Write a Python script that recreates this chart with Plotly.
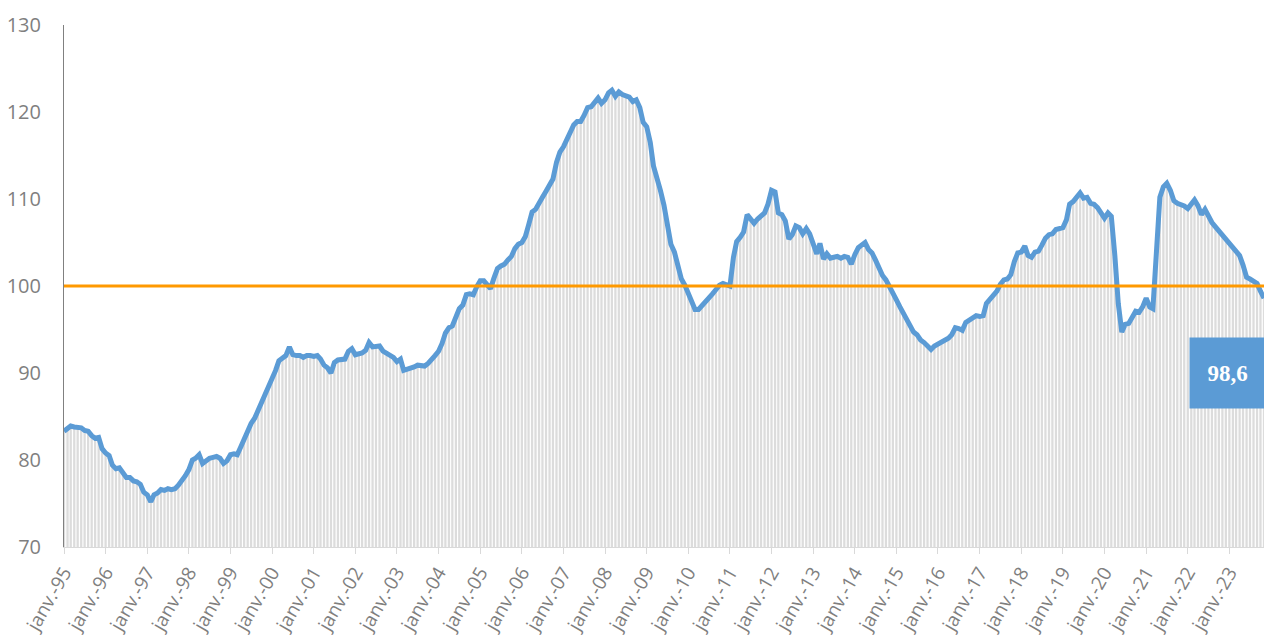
import pandas as pd
import plotly.graph_objects as go

# Monthly index values, Jan 1995 -> Nov 2023
values_1995_1999 = [
    83.3, 83.6, 83.9, 83.8, 83.7, 83.7, 83.4, 83.3, 82.8, 82.5, 82.6, 81.3,
    80.8, 80.5, 79.4, 79.0, 79.1, 78.4, 78.0, 78.0, 77.6, 77.5, 77.2, 76.3,
    76.0, 75.2, 76.0, 76.2, 76.6, 76.5, 76.7, 76.6, 76.7, 77.1, 77.6, 78.2,
    78.9, 80.0, 80.2, 80.6, 79.6, 79.9, 80.2, 80.3, 80.4, 80.2, 79.6, 79.9,
    80.6, 80.7, 80.6, 81.5, 82.4, 83.2, 84.2, 84.8, 85.7, 86.5, 87.3, 88.5,
]
values_2000_2004 = [
    89.4, 90.3, 91.4, 91.8, 92.0, 93.0, 92.1, 92.0, 92.0, 91.8, 92.0, 92.0,
    91.9, 92.0, 91.6, 90.9, 90.6, 90.0, 91.2, 91.5, 91.5, 91.6, 92.5, 92.8,
    92.1, 92.2, 92.3, 92.6, 93.5, 93.0, 93.0, 93.1, 92.5, 92.3, 92.1, 91.8,
    91.3, 91.6, 90.3, 90.4, 90.5, 90.7, 90.9, 90.8, 90.8, 91.1, 91.5, 92.0,
    92.5, 93.4, 94.6, 95.2, 95.4, 96.6, 97.4, 97.8, 99.0, 99.1, 99.0, 99.9,
]
values_2005_2009 = [
    100.6, 100.6, 100.1, 99.7, 100.9, 102.0, 102.3, 102.5, 103.0, 103.4, 104.3, 104.8,
    105.0, 105.7, 107.0, 108.5, 108.8, 109.4, 110.2, 110.9, 111.5, 112.3, 114.2, 115.4,
    116.0, 116.9, 117.7, 118.5, 118.9, 118.9, 119.6, 120.5, 120.6, 121.1, 121.6, 121.0,
    121.4, 122.2, 122.5, 121.8, 122.3, 122.0, 121.9, 121.7, 121.2, 121.4, 120.5, 118.8,
    118.3, 116.5, 113.8, 112.5, 111.0, 109.3, 107.0, 104.8, 103.9, 102.3, 100.8, 100.1,
]
values_2010_2014 = [
    99.2, 98.2, 97.3, 97.3, 97.7, 98.2, 98.7, 99.1, 99.6, 100.1, 100.3, 100.2,
    100.0, 103.3, 105.1, 105.6, 106.2, 108.2, 107.7, 107.2, 107.7, 108.1, 108.4, 109.4,
    111.0, 110.8, 108.4, 108.2, 107.5, 105.4, 105.9, 106.9, 106.7, 106.0, 106.6, 106.0,
    104.7, 103.7, 104.9, 103.1, 103.7, 103.2, 103.3, 103.4, 103.2, 103.4, 103.3, 102.5,
    103.6, 104.4, 104.7, 105.0, 104.2, 103.8, 103.0, 101.9,
]
values_2015_2019 = [
    101.2, 100.7, 100.0, 99.2, 98.4, 97.6, 96.9, 96.1, 95.3, 94.7, 94.4, 93.8,
    93.5, 93.0, 92.7, 93.1, 93.3, 93.6, 93.8, 94.0, 94.4, 95.2, 95.1, 94.9,
    95.8, 96.1, 96.3, 96.6, 96.5, 96.6, 98.0, 98.5, 99.0, 99.4, 100.2, 100.7,
    100.8, 101.3, 102.8, 103.8, 103.9, 104.6, 103.5, 103.3, 103.9, 104.0, 104.7, 105.5,
    105.9, 106.0, 106.5, 106.6, 106.7, 107.6, 109.4, 109.7, 110.2, 110.7, 110.1, 110.2,
]
values_2020_2023 = [
    109.5, 109.4, 109.0, 108.3, 107.8, 108.4, 108.0, 103.5, 98.0, 94.7, 95.6, 95.7,
    96.5, 97.1, 97.0, 97.6, 98.6, 97.6, 97.4, 104.5, 110.2, 111.4, 111.8, 111.0,
    109.8, 109.5, 109.4, 109.2, 108.9, 109.4, 109.9, 109.2, 108.2, 108.8, 108.0, 107.3,
    106.8, 106.3, 105.9, 105.4, 105.0, 104.4, 104.0, 103.5, 102.4, 101.0, 100.8, 100.6,
    100.3, 99.4, 98.6,
]
values = (values_1995_1999 + values_2000_2004 + values_2005_2009
          + values_2010_2014 + values_2015_2019 + values_2020_2023)

start_month = "1995-01-01"
dates = pd.date_range(start_month, periods=len(values), freq="MS")

reference_level = 100
last_label = "98,6"

tick_years = list(range(1995, 2024))
tick_dates = [f"{y}-01-01" for y in tick_years]
tick_text = [f"janv.-{str(y)[-2:]}" for y in tick_years]

y_ticks = [70, 80, 90, 100, 110, 120, 130]

fig = go.Figure()
fig.add_trace(go.Bar(
    x=dates, y=values,
    marker=dict(color="#DCDCDC", line=dict(width=0)),
    width=20 * 86400000,
    hoverinfo="skip",
    showlegend=False,
))
fig.add_trace(go.Scatter(
    x=dates, y=values, mode="lines",
    line=dict(color="#5B9BD5", width=5),
    showlegend=False,
))
fig.add_shape(type="line", xref="paper", x0=0, x1=1, yref="y",
              y0=reference_level, y1=reference_level,
              line=dict(color="#FF9900", width=3))

fig.add_annotation(
    xref="paper", x=0.9696, yref="y", y=90.0,
    text=f"<b>{last_label}</b>", showarrow=False,
    xanchor="center", yanchor="middle",
    width=73, height=68, bgcolor="#5B9BD5",
    font=dict(family="Liberation Serif", size=23, color="white"),
)

fig.update_layout(
    width=1264, height=638,
    margin=dict(l=64, r=0, t=25, b=91),
    paper_bgcolor="white", plot_bgcolor="white",
    font=dict(family="Open Sans", color="#7F7F7F", size=19),
    bargap=0.3,
)
fig.update_xaxes(
    type="date",
    range=[dates[0], dates[-1]],
    tickvals=tick_dates, ticktext=tick_text,
    tickangle=-60,
    ticks="outside", ticklen=6, tickcolor="#D9D9D9",
    showline=True, linecolor="#D9D9D9", linewidth=1,
    showgrid=False, zeroline=False,
    tickfont=dict(size=19, color="#7F7F7F"),
    automargin=False,
)
fig.update_yaxes(
    range=[70, 130], tickvals=y_ticks,
    showline=True, linecolor="#808080", linewidth=1,
    showgrid=False, zeroline=False,
    ticks="", ticklabelstandoff=18,
    tickfont=dict(size=20, color="#7F7F7F"),
    automargin=False,
)

# remove the default page margin / scrollbars so the figure fills the window exactly
page_fix = ("document.body.style.margin='0';"
            "document.documentElement.style.overflow='hidden';"
            "document.body.style.overflow='hidden';")
fig.write_html("out.html", post_script=page_fix,
               config={"displayModeBar": False})
